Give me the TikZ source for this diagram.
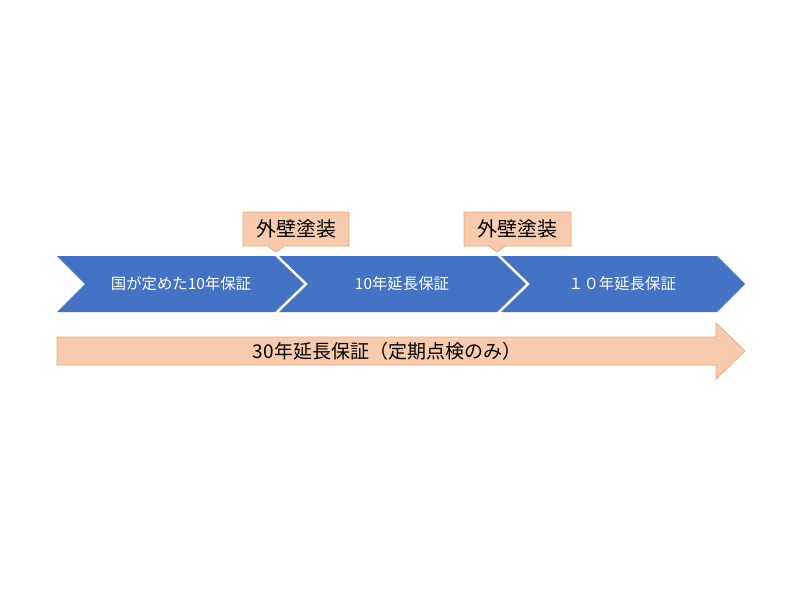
\documentclass[tikz,border=0pt]{standalone}
\usepackage{fontspec}
\newfontfamily\jp{Noto Sans CJK JP}
\definecolor{chevblue}{HTML}{4472C4}
\definecolor{salfill}{HTML}{F8CBAD}
\definecolor{salline}{HTML}{F0A877}
\begin{document}
\begin{tikzpicture}[x=1pt,y=-1pt,
  chev/.style={fill=chevblue,draw=none},
  chevtext/.style={text=white,font=\jp\fontsize{15.4}{17}\selectfont,inner sep=0pt},
  callout/.style={fill=salfill,draw=salline,line width=0.8pt,line join=miter},
  callouttext/.style={text=black,font=\jp\fontsize{20}{23}\selectfont,inner sep=0pt},
  bigarrow/.style={fill=salfill,draw=salline,line width=0.8pt},
  arrowtext/.style={text=black,font=\jp\fontsize{19}{22}\selectfont,inner sep=0pt}]
\useasboundingbox (0,0) rectangle (800,600);
% chevrons
\draw[chev] (57,256) -- (275,256) -- (304,284) -- (275,312) -- (57,312) -- (85,284) -- cycle;
\draw[chev] (279,256) -- (497,256) -- (526,284) -- (497,312) -- (279,312) -- (308,284) -- cycle;
\draw[chev] (501,256) -- (717,256) -- (745,284) -- (717,312) -- (501,312) -- (530,284) -- cycle;
\node[chevtext] (c1) at (181,284) {国が定めた10年保証};
\node[chevtext] (c2) at (402,284) {10年延長保証};
\node[chevtext] (c3) at (622,284) {１０年延長保証};
% callouts
\draw[callout] (243,212) -- (349,212) -- (349,246) -- (284,246) -- (276,252) -- (268,246) -- (243,246) -- cycle;
\node[callouttext] (p1) at (296,229) {外壁塗装};
\draw[callout] (464,212) -- (571,212) -- (571,246) -- (505,246) -- (497,252) -- (489,246) -- (464,246) -- cycle;
\node[callouttext] (p2) at (517,229) {外壁塗装};
% big arrow
\draw[bigarrow] (57,337) -- (716,337) -- (716,323) -- (745,351) -- (716,379) -- (716,365) -- (57,365) -- cycle;
\node[arrowtext] (a) at (387,351) {30年延長保証（定期点検のみ）};
\end{tikzpicture}
\end{document}
